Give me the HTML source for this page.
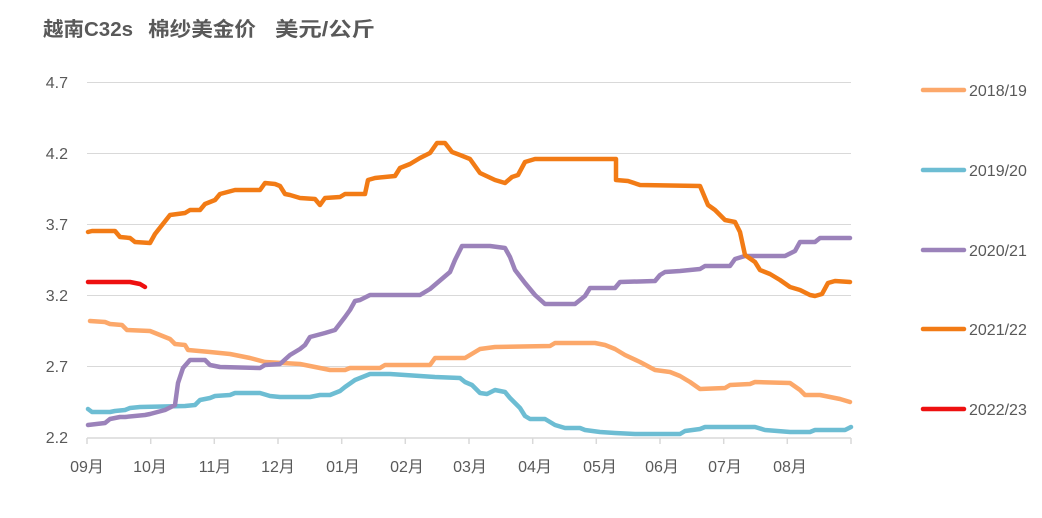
<!DOCTYPE html>
<html><head><meta charset="utf-8"><style>
body{margin:0;background:#fff;width:1042px;height:513px;overflow:hidden;font-family:"Liberation Sans","Noto Sans CJK SC",sans-serif}
</style></head><body>
<svg width="1042" height="513" xmlns="http://www.w3.org/2000/svg" font-family="Liberation Sans, Noto Sans CJK SC, sans-serif">
<g font-size="20" font-weight="bold" fill="#595959">
<text x="43" y="36" textLength="90" lengthAdjust="spacingAndGlyphs">越南C32s</text>
<text x="148" y="36" textLength="108" lengthAdjust="spacingAndGlyphs">棉纱美金价</text>
<text x="275" y="36" textLength="100" lengthAdjust="spacingAndGlyphs">美元/公斤</text>
</g>
<g stroke="#d9d9d9" stroke-width="1">
<line x1="87" x2="851" y1="82.5" y2="82.5"/><line x1="87" x2="851" y1="153.5" y2="153.5"/><line x1="87" x2="851" y1="224.5" y2="224.5"/><line x1="87" x2="851" y1="295.5" y2="295.5"/><line x1="87" x2="851" y1="366.5" y2="366.5"/>
</g>
<g stroke="#d9d9d9" stroke-width="1.5"><line x1="87" x2="851" y1="438" y2="438"/>
<line x1="87" y1="438" x2="87" y2="444"/><line x1="150.7" y1="438" x2="150.7" y2="444"/><line x1="214.3" y1="438" x2="214.3" y2="444"/><line x1="278" y1="438" x2="278" y2="444"/><line x1="341.7" y1="438" x2="341.7" y2="444"/><line x1="405.3" y1="438" x2="405.3" y2="444"/><line x1="469" y1="438" x2="469" y2="444"/><line x1="532.7" y1="438" x2="532.7" y2="444"/><line x1="596.3" y1="438" x2="596.3" y2="444"/><line x1="660" y1="438" x2="660" y2="444"/><line x1="723.7" y1="438" x2="723.7" y2="444"/><line x1="787.3" y1="438" x2="787.3" y2="444"/><line x1="851" y1="438" x2="851" y2="444"/></g>
<g font-size="16" fill="#595959" text-anchor="end">
<text x="68" y="88">4.7</text><text x="68" y="159">4.2</text><text x="68" y="230">3.7</text><text x="68" y="301">3.2</text><text x="68" y="372">2.7</text><text x="68" y="443">2.2</text></g>
<g font-size="16" fill="#595959" text-anchor="middle">
<text x="87" y="472">09月</text><text x="150" y="472">10月</text><text x="215" y="472">11月</text><text x="278" y="472">12月</text><text x="343" y="472">01月</text><text x="407" y="472">02月</text><text x="470" y="472">03月</text><text x="535" y="472">04月</text><text x="600" y="472">05月</text><text x="662" y="472">06月</text><text x="725" y="472">07月</text><text x="790" y="472">08月</text></g>
<g fill="none" stroke-width="4.5" stroke-linejoin="round" stroke-linecap="round">
<polyline stroke="#FCA86A" points="90,321 105,322 110,324 122,325 127,330 150,331 160,335 170,339 175,344 185,345 188,350 210,352 230,354 250,358 265,362 300,364 315,367 330,370 345,370 350,368 380,368 385,365 430,365 435,358 465,358 470,355 480,349 495,347 550,346 555,343 595,343 605,345 615,349 625,355 640,362 655,370 670,372 680,376 690,382 700,389 725,388 730,385 750,384 755,382 790,383 800,390 805,395 820,395 830,397 840,399 850,402"/>
<polyline stroke="#6DBDD3" points="88,409 92,412 110,412 115,411 125,410 130,408 140,407 185,406 195,405 200,400 210,398 215,396 230,395 235,393 260,393 270,396 280,397 310,397 320,395 330,395 340,391 345,387 355,380 370,374 390,374 420,376 435,377 460,378 465,382 472,385 480,393 487,394 495,390 505,392 510,398 520,408 525,416 530,419 545,419 555,425 565,428 580,428 585,430 600,432 615,433 635,434 680,434 685,431 700,429 705,427 755,427 765,430 790,432 810,432 815,430 830,430 845,430 851,427"/>
<polyline stroke="#9B82BA" points="88,425 105,423 110,419 120,417 125,417 145,415 150,414 165,410 175,405 178,383 183,368 190,360 205,360 210,365 220,367 260,368 265,365 280,364 290,355 300,349 305,345 310,337 325,333 335,330 345,317 350,310 355,301 360,300 370,295 420,295 430,289 450,272 455,260 462,246 490,246 505,248 510,257 515,270 525,283 535,295 545,304 575,304 585,296 590,288 615,288 620,282 655,281 660,275 665,272 680,271 700,269 705,266 730,266 735,259 745,256 785,256 795,251 800,242 815,242 820,238 850,238"/>
<polyline stroke="#F27B15" points="88,232 92,231 115,231 120,237 130,238 135,242 150,243 155,234 170,215 185,213 190,210 200,210 205,204 215,200 220,194 235,190 260,190 265,183 275,184 280,186 285,194 290,195 300,198 315,199 320,205 325,198 340,197 345,194 365,194 368,180 375,178 395,176 400,168 410,164 420,158 430,153 437,143 445,143 452,152 460,155 470,159 480,173 495,180 505,183 512,177 518,175 525,162 535,159 616,159 616,180 628,181 640,185 700,186 708,205 715,210 725,220 735,222 740,232 745,255 755,262 760,270 770,274 780,280 790,287 800,290 810,295 815,296 822,294 828,283 835,281 850,282"/>
<polyline stroke="#EE1010" points="88,282 130,282 140,284 145,287"/>
</g>
<g stroke-width="4.5" stroke-linecap="round">
<line x1="923" x2="964" y1="90" y2="90" stroke="#FCA86A"/>
<line x1="923" x2="964" y1="170" y2="170" stroke="#6DBDD3"/>
<line x1="923" x2="964" y1="250" y2="250" stroke="#9B82BA"/>
<line x1="923" x2="964" y1="329" y2="329" stroke="#F27B15"/>
<line x1="923" x2="964" y1="409" y2="409" stroke="#EE1010"/>
</g>
<g font-size="16" fill="#595959">
<text x="969" y="96">2018/19</text><text x="969" y="176">2019/20</text><text x="969" y="256">2020/21</text><text x="969" y="335">2021/22</text><text x="969" y="415">2022/23</text></g>
</svg>
</body></html>
